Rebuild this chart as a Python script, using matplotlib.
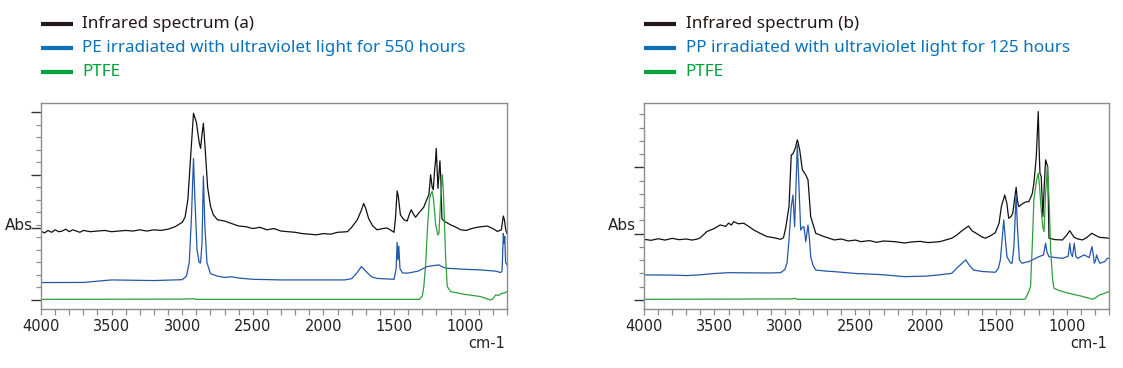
import matplotlib
matplotlib.use("Agg")
import matplotlib.pyplot as plt
from matplotlib.lines import Line2D
from matplotlib.ticker import MultipleLocator, FixedLocator

# ---------------- data (wavenumber, Abs offset units) ----------------
# panel (a)
wn_a_ir = [4000, 3975, 3950, 3925, 3900, 3875, 3850, 3825, 3800, 3775, 3750, 3725, 3700, 3650,
           3600, 3550, 3500, 3450, 3400, 3350, 3300, 3250, 3200, 3150, 3100, 3050,
           3000, 2980, 2960, 2940, 2920, 2900, 2880, 2870, 2860, 2850, 2840, 2820, 2800, 2780,
           2750, 2700, 2650, 2600, 2550, 2500, 2450, 2400, 2350, 2300, 2250, 2200, 2150, 2100,
           2050, 2000, 1950, 1900, 1830, 1800, 1760, 1730,
           1715, 1700, 1680, 1650, 1620, 1580, 1550, 1520, 1500, 1490, 1478, 1470, 1455, 1430,
           1407, 1390, 1378, 1365, 1348, 1320, 1290, 1265, 1253, 1241, 1230, 1222, 1213, 1207,
           1201, 1195, 1189, 1182, 1175, 1168, 1161, 1147, 1100, 1060, 1028, 990, 950, 910, 880,
           839, 800, 768, 740, 726, 718, 709, 700]
abs_a_ir = [5.5, 5.35, 5.55, 5.4, 5.6, 5.45, 5.5, 5.65, 5.45, 5.6, 5.5, 5.4, 5.55, 5.45,
            5.5, 5.55, 5.45, 5.5, 5.55, 5.5, 5.6, 5.5, 5.6, 5.55, 5.65, 5.85,
            6.2, 6.6, 8.0, 11.5, 14.9, 14.2, 12.6, 12.1, 13.2, 14.1, 12.5, 9.0, 7.5, 6.8,
            6.4, 6.3, 6.1, 5.9, 5.85, 5.7, 5.8, 5.6, 5.7, 5.5, 5.45, 5.4, 5.3, 5.25,
            5.2, 5.3, 5.25, 5.4, 5.45, 5.8, 6.4, 7.2,
            7.7, 7.3, 6.5, 5.9, 5.6, 5.7, 5.75, 5.55, 5.4, 6.5, 8.7, 8.3, 6.8, 6.4,
            6.3, 6.9, 7.2, 6.9, 6.6, 7.0, 7.4, 8.1, 8.4, 10.0, 9.0, 8.8, 10.3, 11.0,
            12.1, 10.5, 8.9, 10.0, 11.1, 9.5, 6.5, 6.3, 6.0, 5.8, 5.6, 5.55, 5.7, 5.8, 5.85,
            5.9, 5.7, 5.47, 5.6, 6.7, 6.4, 5.6, 5.3]

wn_a_pe = [4000, 3700, 3500, 3200, 3000, 2970, 2950, 2935, 2920, 2910, 2895, 2880, 2870, 2860,
           2850, 2840, 2825, 2800, 2750, 2700, 2650, 2600, 2500, 2300, 2000, 1850, 1800, 1760,
           1731, 1700, 1660, 1620, 1550, 1500, 1485, 1478, 1472, 1466, 1458, 1440, 1400, 1330,
           1265, 1182, 1150, 1123, 1000, 887, 780, 745, 735, 726, 720, 716, 710, 700]
abs_a_pe = [1.39, 1.4, 1.6, 1.55, 1.62, 1.9, 3.0, 6.5, 11.3, 8.0, 4.0, 3.0, 2.95, 4.5,
            9.9, 6.0, 3.0, 2.1, 1.9, 1.8, 1.85, 1.75, 1.65, 1.6, 1.6, 1.6, 1.7, 2.2,
            2.67, 2.3, 1.85, 1.72, 1.68, 1.65, 2.5, 4.6, 3.2, 4.3, 2.5, 2.15, 2.15, 2.3,
            2.67, 2.8, 2.6, 2.53, 2.45, 2.4, 2.3, 2.19, 2.3, 5.3, 4.5, 5.07, 3.0, 2.8]

wn_a_ptfe = [4000, 3000, 2920, 2900, 1320, 1300, 1289, 1275, 1265, 1250, 1241, 1230, 1220, 1205,
             1190, 1182, 1170, 1158, 1150, 1135, 1123, 1100, 1000, 887, 816, 800, 780, 760,
             745, 720, 700]
abs_a_ptfe = [0.05, 0.07, 0.1, 0.05, 0.05, 0.3, 1.07, 3.0, 5.33, 8.0, 8.4, 8.67, 8.0, 6.0,
              5.2, 5.3, 8.0, 10.0, 8.5, 3.5, 1.07, 0.67, 0.45, 0.27, 0.0, 0.1, 0.4, 0.35,
              0.5, 0.55, 0.67]

# panel (b)
wn_b_ir = [4000, 3950, 3900, 3850, 3800, 3750, 3700, 3660, 3620, 3600, 3554, 3500, 3459, 3420,
           3400, 3380, 3364, 3330, 3292, 3250, 3221,
           3170, 3126, 3080, 3031, 3010, 2995, 2971, 2955, 2945, 2936, 2925, 2912, 2905, 2895,
           2876, 2862, 2852, 2836, 2817, 2781, 2721, 2650, 2600, 2550, 2500, 2460, 2400, 2350,
           2300, 2221, 2150, 2100, 2040, 1983,
           1900, 1816, 1780, 1745, 1697, 1670, 1650, 1600, 1578, 1540, 1507, 1480, 1464, 1440,
           1425, 1412, 1395, 1383, 1359, 1350, 1340, 1317, 1290, 1269, 1245, 1233, 1216, 1202,
           1196, 1190, 1181, 1169, 1160, 1150, 1142, 1135, 1126, 1080, 1030, 1000, 978, 965,
           947, 920, 888, 860, 821, 800, 769, 740, 700]
abs_b_ir = [4.58, 4.5, 4.62, 4.52, 4.65, 4.55, 4.6, 4.52, 4.6, 4.7, 5.16, 5.4, 5.66, 5.55,
            5.8, 5.65, 5.91, 5.75, 5.79, 5.5, 5.28,
            5.0, 4.78, 4.7, 4.58, 4.7, 5.41, 7.04, 10.94, 11.0, 11.2, 11.5, 12.08, 11.8, 11.32,
            9.81, 9.6, 9.43, 9.06, 6.29, 5.03, 4.78, 4.53, 4.6, 4.45, 4.52, 4.4, 4.48, 4.35,
            4.45, 4.4, 4.3, 4.38, 4.42, 4.33,
            4.4, 4.66, 4.9, 5.21, 5.58, 5.2, 5.08, 4.75, 4.66, 4.85, 5.08, 5.8, 7.04, 7.92,
            7.3, 6.16, 6.3, 6.54, 8.5, 7.5, 7.04, 7.24, 7.4, 7.42, 8.0, 8.8, 10.82, 14.21,
            11.5, 9.56, 9.31, 6.29, 8.5, 10.57, 10.3, 10.06, 4.66, 4.55, 4.53, 4.9, 5.23, 5.0,
            4.73, 4.6, 4.53, 4.7, 5.03, 4.9, 4.73, 4.7, 4.66]

wn_b_pp = [4000, 3800, 3700, 3600, 3500, 3400, 3300, 3100, 3031, 3000, 2985, 2971, 2955, 2943,
           2931, 2920, 2912, 2900, 2888, 2875, 2865, 2852, 2836, 2825, 2817, 2800, 2781, 2700,
           2650, 2500, 2412, 2300, 2150, 2000, 1900, 1816, 1769, 1716, 1690, 1662, 1600, 1507,
           1485, 1471, 1455, 1447, 1435, 1424, 1400, 1388, 1375, 1359, 1350, 1336, 1317, 1290,
           1269, 1197, 1165, 1150, 1140, 1126, 1080, 1030, 990, 978, 970, 959, 947, 935,
           923, 876, 840, 821, 810, 804, 795, 788, 775, 764, 730, 712, 702]
abs_b_pp = [1.89, 1.88, 1.84, 1.9, 2.0, 2.06, 2.05, 2.04, 2.06, 2.3, 2.8, 4.53, 7.04, 7.92,
            5.53, 9.0, 11.7, 8.5, 5.28, 5.5, 5.53, 4.4, 5.66, 4.5, 3.27, 2.6, 2.26, 2.17,
            2.14, 2.0, 1.96, 1.9, 1.76, 1.8, 1.9, 2.01, 2.52, 3.02, 2.6, 2.26, 2.15, 2.09,
            2.4, 3.02, 5.0, 6.04, 4.5, 3.27, 2.8, 2.77, 4.0, 7.92, 5.5, 3.02, 2.77, 2.85,
            2.89, 3.27, 3.4, 4.28, 3.6, 3.27, 3.2, 3.14, 3.3, 4.28, 3.5, 3.27, 4.28, 3.3,
            3.14, 3.4, 3.2, 4.03, 3.3, 2.77, 3.0, 3.4, 3.0, 2.77, 2.9, 3.14, 3.14]

wn_b_ptfe = [4000, 2950, 2930, 2910, 1300, 1293, 1275, 1257, 1245, 1233, 1215, 1202, 1192, 1185,
             1170, 1161, 1150, 1138, 1125, 1114, 1100, 1090, 1050, 983, 900, 816, 790, 769,
             745, 721, 700]
abs_b_ptfe = [0.05, 0.08, 0.12, 0.05, 0.05, 0.1, 0.5, 1.0, 4.0, 7.55, 9.0, 9.56, 8.5, 7.3,
              5.5, 5.16, 8.0, 10.06, 7.5, 3.77, 1.5, 0.88, 0.7, 0.5, 0.3, 0.05, 0.2, 0.38,
              0.45, 0.55, 0.63]

legend_a = ["Infrared spectrum (a)", "PE irradiated with ultraviolet light for 550 hours", "PTFE"]
legend_b = ["Infrared spectrum (b)", "PP irradiated with ultraviolet light for 125 hours", "PTFE"]
x_ticks = [4000, 3500, 3000, 2500, 2000, 1500, 1000]

# ---------------- style ----------------
C_IR, C_BLUE, C_GREEN = "#111111", "#2457a8", "#2f9e3c"
L_IR, L_BLUE, L_GREEN = "#231815", "#0a72ba", "#00a23c"
SPINE = "#8c8c8c"

W, H = 1123, 368
fig = plt.figure(figsize=(W / 100, H / 100), dpi=100)


def px_box(x0, y0, x1, y1):
    return [x0 / W, 1 - y1 / H, (x1 - x0) / W, (y1 - y0) / H]


def panel(box, traces, ylim, ymajor, ymax_tick, legend, leg_x):
    ax = fig.add_axes(px_box(*box))
    for wn, ab, c in traces:
        ax.plot(wn, ab, color=c, lw=0.9)
    ax.set_xlim(4000, 700)
    ax.set_ylim(*ylim)
    ax.xaxis.set_major_locator(FixedLocator(x_ticks))
    ax.xaxis.set_minor_locator(MultipleLocator(100))
    ax.yaxis.set_major_locator(FixedLocator(ymajor))
    ax.yaxis.set_minor_locator(FixedLocator(list(range(0, ymax_tick + 1))))
    ax.set_yticklabels([])
    for s in ax.spines.values():
        s.set_color(SPINE)
        s.set_linewidth(1.0)
    ax.tick_params(axis="x", which="both", direction="out", length=4, width=0.9,
                   color=SPINE, labelsize=10.5, labelcolor="#222222", pad=3)
    ax.tick_params(axis="y", which="major", direction="out", length=7, width=1.0, color="#333333")
    ax.tick_params(axis="y", which="minor", direction="out", length=3.5, width=0.9, color=SPINE)

    # Abs / cm-1 labels
    x0, y0, x1, y1 = box
    fig.text((x0 - 36) / W, 1 - 225 / H, "Abs", fontsize=11, color="#222222",
             ha="left", va="center")
    fig.text((x1 - 20) / W, 1 - 343 / H, "cm-1", fontsize=10.5, color="#222222",
             ha="center", va="center")

    # legend block above the plot
    rows = [24, 47.7, 71.7]
    for (label, lc), yy in zip(zip(legend, [L_IR, L_BLUE, L_GREEN]), rows):
        fig.add_artist(Line2D([leg_x / W, (leg_x + 32) / W], [1 - yy / H, 1 - yy / H],
                              color=lc, lw=3.0, solid_capstyle="butt"))
        fig.text((leg_x + 41.5) / W, 1 - yy / H, label, color=lc, fontsize=12.3,
                 family="Noto Sans", ha="left", va="center")
    return ax


panel((41, 103, 507, 309),
      [(wn_a_ir, abs_a_ir, C_IR), (wn_a_pe, abs_a_pe, C_BLUE), (wn_a_ptfe, abs_a_ptfe, C_GREEN)],
      (-0.72, 15.72), [0, 5.75, 10, 15], 15, legend_a, 41)

panel((644, 103, 1109, 309),
      [(wn_b_ir, abs_b_ir, C_IR), (wn_b_pp, abs_b_pp, C_BLUE), (wn_b_ptfe, abs_b_ptfe, C_GREEN)],
      (-0.68, 14.86), [0, 5, 10], 14, legend_b, 644)

fig.savefig("out.png", dpi=100)
